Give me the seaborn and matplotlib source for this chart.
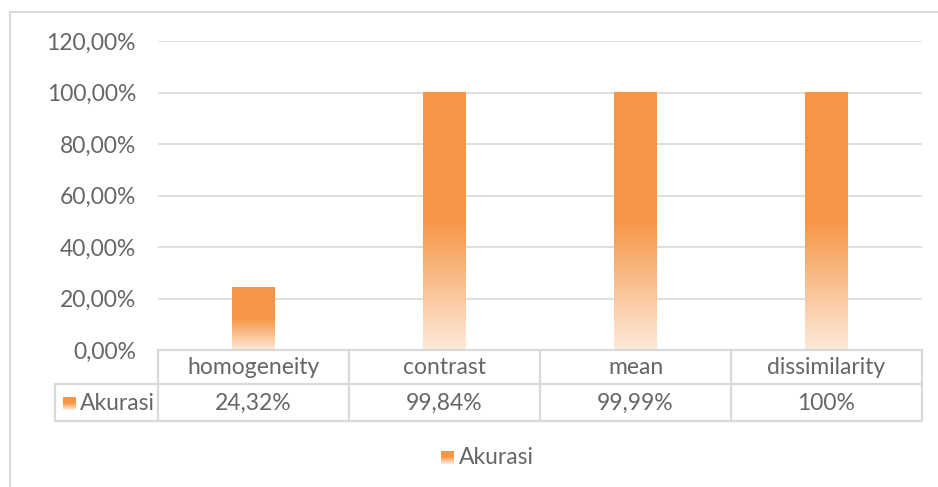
import numpy as np
import matplotlib
matplotlib.use("Agg")
import matplotlib.pyplot as plt
import matplotlib.transforms as mtransforms
from matplotlib.patches import Rectangle
import seaborn as sns

categories = ["homogeneity", "contrast", "mean", "dissimilarity"]
values = [24.32, 99.84, 99.99, 100.0]
series_name = "Akurasi"
yticks = [0, 20, 40, 60, 80, 100, 120]

W, H = 938, 487
TOP_C = np.array([0xF7, 0x96, 0x46]) / 255
BOT_C = np.array([0xFD, 0xEA, 0xDA]) / 255
TXT = "#666666"
GRID = "#d9d9d9"
FONT = ["Lato", "DejaVu Sans"]
FS = 16.5
FW = "normal"

sns.set_theme(style="white")
plt.rcParams['font.family'] = FONT

fig = plt.figure(figsize=(W / 100, H / 100), dpi=100)
fig.patch.set_facecolor("white")

def fx(px):
    return px / W

def fy(py):
    return 1 - py / H

ax = fig.add_axes([fx(158), fy(350), fx(922) - fx(158), fy(41) - fy(350)])
sns.barplot(x=categories, y=values, color="#F79646", width=0.225, ax=ax, zorder=3)

ax.set_xlim(-0.5, len(categories) - 0.5)
ax.set_ylim(0, 120)


def grad_array(n=300):
    t = np.linspace(0, 1, n)
    f = np.clip((t - 0.5) / 0.5, 0, 1)
    cols = TOP_C[None, :] * (1 - f[:, None]) + BOT_C[None, :] * f[:, None]
    return cols[:, None, :]


g = grad_array()
for p in list(ax.patches):
    x0, w, h = p.get_x(), p.get_width(), p.get_height()
    ax.imshow(g, extent=[x0, x0 + w, 0, h], origin="upper", aspect="auto", zorder=3)
    p.set_visible(False)

ax.set_xlim(-0.5, len(categories) - 0.5)
ax.set_ylim(0, 120)
ax.set_aspect("auto")

ax.set_yticks(yticks)
ax.set_yticklabels([f"{v:.2f}".replace(".", ",") + "%" for v in yticks],
                   fontsize=FS, color=TXT, fontweight=FW)
ax.tick_params(axis="y", length=0, pad=15.8)
ax.set_xticks([])
ax.set_xlabel("")
ax.set_ylabel("")
for s in ax.spines.values():
    s.set_visible(False)
ax.grid(axis="y", color=GRID, lw=1.2, zorder=0)
ax.set_axisbelow(True)

# data table
bt = mtransforms.blended_transform_factory(ax.transData, fig.transFigure)
n = len(categories)
bounds = [i - 0.5 for i in range(n + 1)]
lkw = dict(color=GRID, lw=1.6, clip_on=False)
fig.add_artist(plt.Line2D([fx(158), fx(922)], [fy(350), fy(350)], transform=fig.transFigure, **lkw))
fig.add_artist(plt.Line2D([fx(55), fx(922)], [fy(384), fy(384)], transform=fig.transFigure, **lkw))
fig.add_artist(plt.Line2D([fx(55), fx(922)], [fy(421), fy(421)], transform=fig.transFigure, **lkw))
fig.add_artist(plt.Line2D([fx(55), fx(55)], [fy(384), fy(421)], transform=fig.transFigure, **lkw))
for b in bounds:
    ax.add_line(plt.Line2D([b, b], [fy(350), fy(421)], transform=bt, **lkw))


def fmt(v):
    if abs(v - round(v)) < 1e-9:
        return f"{int(round(v))}%"
    return f"{v:.2f}".replace(".", ",") + "%"


for i, (c, v) in enumerate(zip(categories, values)):
    ax.text(i, fy(368), c, transform=bt, ha="center", va="center",
            fontsize=FS, color=TXT, fontweight=FW)
    ax.text(i, fy(403), fmt(v), transform=bt, ha="center", va="center",
            fontsize=FS, color=TXT, fontweight=FW)

# legend keys with gradient
def key_img(size=14):
    t = np.linspace(0, 1, size)
    f = np.clip((t - 0.45) / 0.55, 0, 1)
    cols = TOP_C[None, :] * (1 - f[:, None]) + BOT_C[None, :] * f[:, None]
    return np.repeat(cols[:, None, :], size, axis=1)

fig.figimage(key_img(13), xo=63, yo=H - 410, origin="upper", zorder=5)
fig.text(fx(80), fy(403), series_name, ha="left", va="center", fontsize=FS,
         color=TXT, fontweight=FW)

fig.figimage(key_img(13), xo=441, yo=H - 464, origin="upper", zorder=5)
fig.text(fx(459), fy(457), series_name, ha="left", va="center", fontsize=FS,
         color=TXT, fontweight=FW)

# outer chart frame
fig.add_artist(Rectangle((fx(10), -0.1), 1.2, fy(12) + 0.1, transform=fig.transFigure,
                         fill=False, edgecolor=GRID, lw=1.5))

fig.savefig("out.png", dpi=100, facecolor="white")
